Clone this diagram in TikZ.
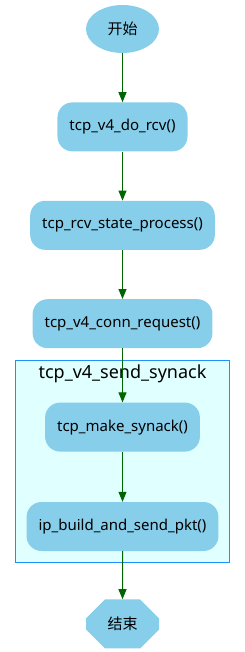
\documentclass[tikz,border=0pt]{standalone}
\usepackage{fontspec}
\setmainfont{Noto Sans}
\newfontfamily\cjkfont{Noto Sans CJK SC}
\usetikzlibrary{arrows.meta,positioning,shapes.geometric,shapes.misc,fit,backgrounds}
\definecolor{nodeblue}{HTML}{87CEEB}
\definecolor{clusterfill}{HTML}{E0FFFF}
\definecolor{clusterline}{HTML}{1E90FF}
\definecolor{edgegreen}{HTML}{006400}
\tikzset{
    flowstart/.style={ellipse,fill=nodeblue,minimum width=73pt,minimum height=48pt,inner sep=0pt,font=\cjkfont\fontsize{15}{17}\selectfont},
    flowcall/.style={rectangle,fill=nodeblue,rounded corners=15pt,minimum height=49pt,inner xsep=12pt,font=\fontsize{15}{17}\selectfont},
    flowend/.style={chamfered rectangle,chamfered rectangle xsep=14pt,chamfered rectangle ysep=12pt,fill=nodeblue,minimum width=73pt,minimum height=49pt,inner sep=0pt,font=\cjkfont\fontsize{15}{17}\selectfont},
    flowline/.style={-{Triangle[length=10pt,width=8pt]},line width=1pt,color=edgegreen},
    cluster/.style={rectangle,draw=clusterline,fill=clusterfill,line width=1pt,inner sep=11pt},
    clusterlabel/.style={inner sep=0pt,font=\fontsize{18}{21}\selectfont}
}
\begin{document}
\begin{tikzpicture}
    \useasboundingbox (0,0) rectangle (245pt,-652pt);
    \node[flowstart] (start) at (122.5pt,-29pt) {开始};
    \node[flowcall,below=49pt of start] (dorcv) {tcp\_v4\_do\_rcv()};
    \node[flowcall,below=49pt of dorcv] (state) {tcp\_rcv\_state\_process()};
    \node[flowcall,below=49pt of state] (connreq) {tcp\_v4\_conn\_request()};
    \node[flowcall,below=54pt of connreq] (mksynack) {tcp\_make\_synack()};
    \node[flowcall,below=50pt of mksynack] (ipsend) {ip\_build\_and\_send\_pkt()};
    \node[flowend,below=48pt of ipsend] (end) {结束};
    % cluster tcp_v4_send_synack
    \coordinate[above=31pt of mksynack.north] (syntop);
    \begin{scope}[on background layer]
        \node[cluster,fit=(syntop)(mksynack)(ipsend)] (synbox) {};
    \end{scope}
    \node[clusterlabel] (synlabel) at ([yshift=-14pt]synbox.north) {tcp\_v4\_send\_synack};
    \draw[flowline] (start) -- (dorcv);
    \draw[flowline] (dorcv) -- (state);
    \draw[flowline] (state) -- (connreq);
    \draw[flowline] (connreq) -- (mksynack);
    \draw[flowline] (mksynack) -- (ipsend);
    \draw[flowline] (ipsend) -- (end);
\end{tikzpicture}
\end{document}
